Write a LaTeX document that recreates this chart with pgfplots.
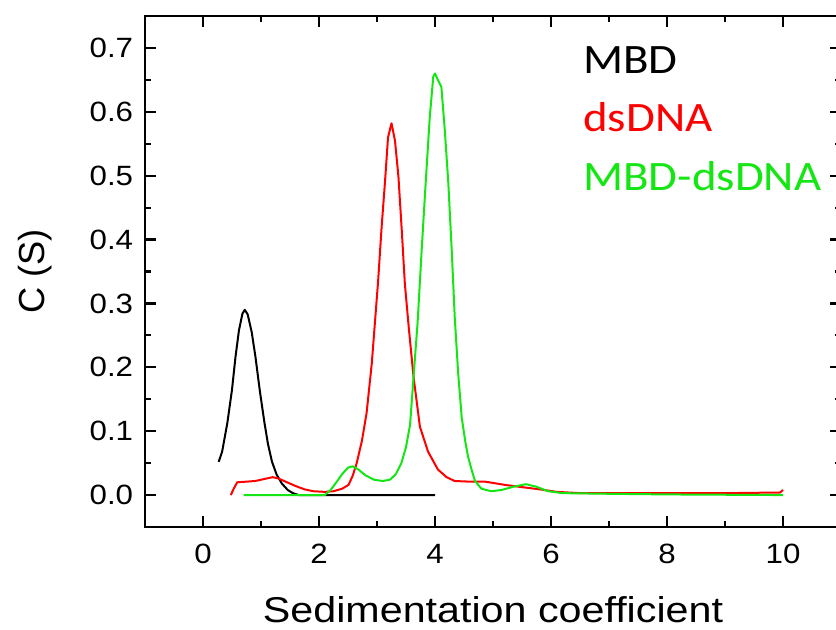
\documentclass[border=0pt]{standalone}
\usepackage{fontspec}
\setmainfont{Liberation Sans}
\newfontfamily\legfont{Carlito}
\usepackage{pgfplots}
\pgfplotsset{compat=1.18}
\definecolor{cgreen}{RGB}{20,230,20}
\definecolor{cred}{RGB}{255,0,0}

\begin{document}
\begin{tikzpicture}
\begin{axis}[scale only axis,width=348bp,height=255.5bp,
 xmin=-1,xmax=11,ymin=-0.05,ymax=0.75,
 xtick={0,2,4,6,8,10},minor xtick={1,3,5,7,9},
 ytick={0,0.1,0.2,0.3,0.4,0.5,0.6,0.7},minor ytick={0.05,0.15,0.25,0.35,0.45,0.55,0.65},
 tick align=inside,major tick length=5.5bp,minor tick length=2.8bp,
 every tick/.style={black,line width=1.1bp},
 axis line style={line width=1.2bp},
 tick label style={font=\fontsize{14}{15}\selectfont,xscale=1.12},
 /pgf/number format/assume math mode=true,
 yticklabel style={xshift=-1.8bp,/pgf/number format/fixed,/pgf/number format/fixed zerofill,/pgf/number format/precision=1},
 xticklabel style={yshift=-5bp},
 xlabel={Sedimentation coefficient},ylabel={C (S)},
 xlabel style={font=\fontsize{18}{20}\selectfont,xscale=1.15,at={(axis description cs:0.5,0)},anchor=base,yshift=-47.5bp},
 ylabel style={font=\fontsize{18.2}{20}\selectfont,at={(axis description cs:0,0.5)},anchor=center,yshift=55bp},
 every axis plot/.append style={line width=1bp,line join=round}]
\addplot[black] coordinates {(0.27,0.052)(0.33,0.068)(0.42,0.113)(0.50,0.165)(0.56,0.216)(0.62,0.258)(0.68,0.284)(0.72,0.290)(0.77,0.283)(0.84,0.255)(0.905,0.216)(0.98,0.163)(1.06,0.113)(1.12,0.080)(1.19,0.052)(1.27,0.032)(1.36,0.018)(1.46,0.008)(1.55,0.003)(1.65,0.0)(4.0,0.0)};
\addplot[cred] coordinates {(0.48,0.0)(0.53,0.01)(0.59,0.020)(0.75,0.021)(0.9,0.022)(1.05,0.025)(1.2,0.028)(1.3,0.026)(1.45,0.02)(1.6,0.014)(1.75,0.009)(1.9,0.006)(2.1,0.005)(2.25,0.006)(2.4,0.01)(2.51,0.016)(2.58,0.03)(2.65,0.05)(2.74,0.085)(2.82,0.128)(2.91,0.206)(3.02,0.336)(3.08,0.42)(3.14,0.493)(3.19,0.56)(3.25,0.582)(3.31,0.555)(3.37,0.498)(3.43,0.41)(3.48,0.331)(3.55,0.26)(3.63,0.185)(3.74,0.107)(3.88,0.068)(4.05,0.040)(4.2,0.028)(4.34,0.022)(4.6,0.021)(4.86,0.021)(5.0,0.019)(5.2,0.016)(5.45,0.013)(5.8,0.009)(6.1,0.005)(6.5,0.003)(7,0.003)(8,0.003)(9,0.003)(9.95,0.004)(10.0,0.008)};
\addplot[cgreen] coordinates {(0.7,0)(1.5,0)(2.1,0)(2.2,0.008)(2.3,0.02)(2.4,0.033)(2.5,0.043)(2.58,0.045)(2.68,0.040)(2.8,0.031)(2.95,0.024)(3.1,0.022)(3.22,0.024)(3.32,0.032)(3.42,0.05)(3.5,0.075)(3.57,0.11)(3.63,0.185)(3.7,0.27)(3.77,0.383)(3.84,0.49)(3.91,0.592)(3.97,0.655)(4.0,0.66)(4.05,0.65)(4.11,0.639)(4.17,0.57)(4.23,0.488)(4.29,0.38)(4.34,0.279)(4.4,0.19)(4.46,0.122)(4.52,0.085)(4.57,0.06)(4.63,0.04)(4.69,0.022)(4.8,0.01)(4.97,0.006)(5.15,0.008)(5.35,0.013)(5.57,0.017)(5.75,0.013)(5.95,0.006)(6.2,0.003)(7,0.002)(8,0.001)(10,0.0)};
\node[anchor=west,inner sep=0pt,xscale=1.12,font=\legfont\fontsize{21}{24}\selectfont,text=black] at (axis cs:6.55,0.681) {MBD};
\node[anchor=west,inner sep=0pt,xscale=1.12,font=\legfont\fontsize{21}{24}\selectfont,text=cred] at (axis cs:6.55,0.592) {dsDNA};
\node[anchor=west,inner sep=0pt,xscale=1.12,font=\legfont\fontsize{21}{24}\selectfont,text=cgreen] at (axis cs:6.55,0.499) {MBD-dsDNA};
\coordinate (tl) at (rel axis cs:0,1);
\coordinate (br) at (rel axis cs:1,0);
\end{axis}
\pgfresetboundingbox
\useasboundingbox ([xshift=-72.5bp,yshift=8bp]tl) rectangle ([xshift=-2.5bp,yshift=-51.5bp]br);
\end{tikzpicture}
\end{document}
